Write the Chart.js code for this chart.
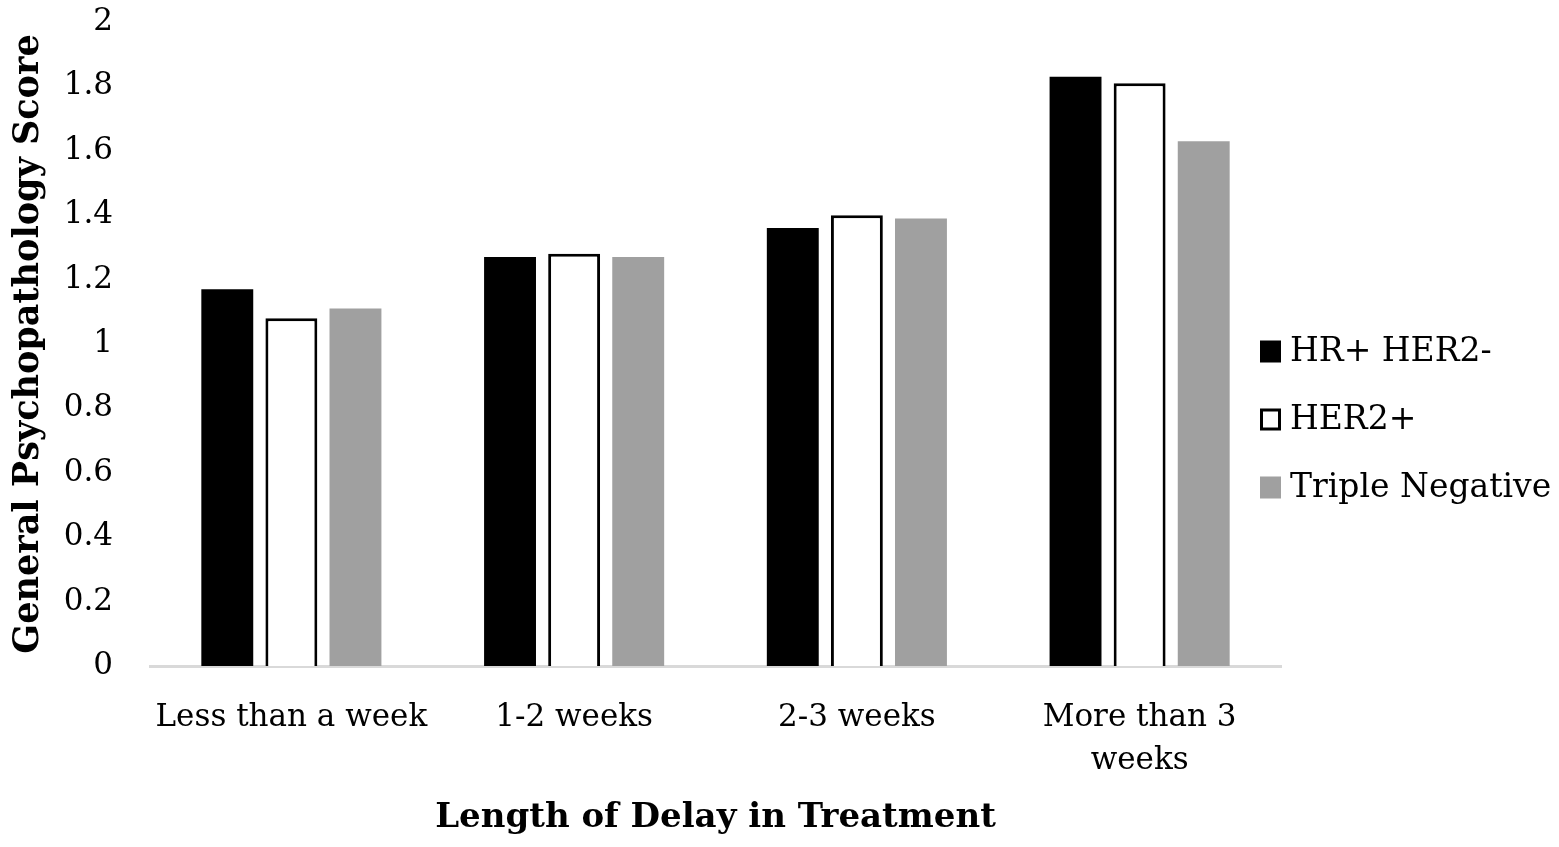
<!DOCTYPE html>
<html>
<head>
<meta charset="utf-8">
<script src="https://cdn.jsdelivr.net/npm/chart.js@4/dist/chart.umd.min.js"></script>
<style>
  html, body { margin: 0; padding: 0; background: #fff; }
  #wrap { width: 1559px; height: 847px; position: relative; }
</style>
</head>
<body>
<div id="wrap"><canvas id="c"></canvas></div>
<script>
const categories = ['Less than a week', '1-2 weeks', '2-3 weeks', ['More than 3', 'weeks']];
const seriesNames = ['HR+ HER2-', 'HER2+', 'Triple Negative'];
const hrPosHer2Neg = [1.17, 1.27, 1.36, 1.83];
const her2Pos = [1.08, 1.28, 1.40, 1.81];
const tripleNeg = [1.11, 1.27, 1.39, 1.63];
const yTicks = { min: 0, max: 2, step: 0.2 };

const FONT = "'DejaVu Serif', 'Liberation Serif', serif";

// legend drawn by hand so it can sit close to the plot like the original
const sideLegend = {
  id: 'sideLegend',
  afterDraw(chart) {
    const { ctx, chartArea } = chart;
    const sets = chart.data.datasets;
    const rowGap = 68;
    const midY = chart.height / 2 - 4;
    const x0 = chartArea.right - 21;
    ctx.save();
    ctx.font = '33px ' + FONT;
    ctx.textBaseline = 'middle';
    ctx.textAlign = 'left';
    sets.forEach((ds, i) => {
      const cy = midY + (i - (sets.length - 1) / 2) * rowGap;
      ctx.fillStyle = ds.backgroundColor;
      ctx.fillRect(x0, cy - 11, 21, 22);
      if (ds.borderWidth) {
        ctx.lineWidth = 3;
        ctx.strokeStyle = ds.borderColor;
        ctx.strokeRect(x0 + 1.5, cy - 9.5, 18, 19);
      }
      ctx.fillStyle = '#000';
      ctx.fillText(ds.label, x0 + 30, cy + 1);
    });
    ctx.restore();
  }
};

new Chart(document.getElementById('c'), {
  type: 'bar',
  data: {
    labels: categories,
    datasets: [
      { label: seriesNames[0], data: hrPosHer2Neg, backgroundColor: '#000000', borderWidth: 0 },
      { label: seriesNames[1], data: her2Pos, backgroundColor: '#ffffff', borderColor: '#000000', borderWidth: 3 },
      { label: seriesNames[2], data: tripleNeg, backgroundColor: '#a0a0a0', borderWidth: 0 },
    ],
  },
  options: {
    responsive: true,
    maintainAspectRatio: false,
    animation: false,
    categoryPercentage: 0.68,
    barPercentage: 0.81,
    layout: { padding: { top: 22, right: 278, left: 0, bottom: 0 } },
    plugins: { legend: { display: false }, tooltip: { enabled: false } },
    scales: {
      x: {
        grid: { display: false, drawTicks: false },
        border: { display: true, color: '#d9d9d9', width: 3 },
        ticks: { color: '#000', font: { family: FONT, size: 31, lineHeight: 1.4 }, padding: 30, maxRotation: 0, autoSkip: false },
        title: { display: true, text: 'Length of Delay in Treatment', color: '#000', font: { family: FONT, size: 34, weight: 'bold' }, padding: { top: 0, bottom: 8 } },
        afterFit(scale) { scale.height = 181; },
      },
      y: {
        min: yTicks.min,
        max: yTicks.max,
        grid: { display: false, drawTicks: false },
        border: { display: false },
        ticks: {
          stepSize: yTicks.step,
          color: '#000',
          padding: 37,
          font: { family: FONT, size: 31 },
          callback: (v) => String(+v.toFixed(1)),
        },
        title: { display: true, text: 'General Psychopathology Score', color: '#000', font: { family: FONT, size: 35, weight: 'bold' }, padding: { top: 8, bottom: 0 } },
        afterFit(scale) { scale.width = 150; scale.paddingTop = 0; scale.paddingBottom = 0; },
      },
    },
  },
  plugins: [sideLegend],
});
</script>
</body>
</html>
